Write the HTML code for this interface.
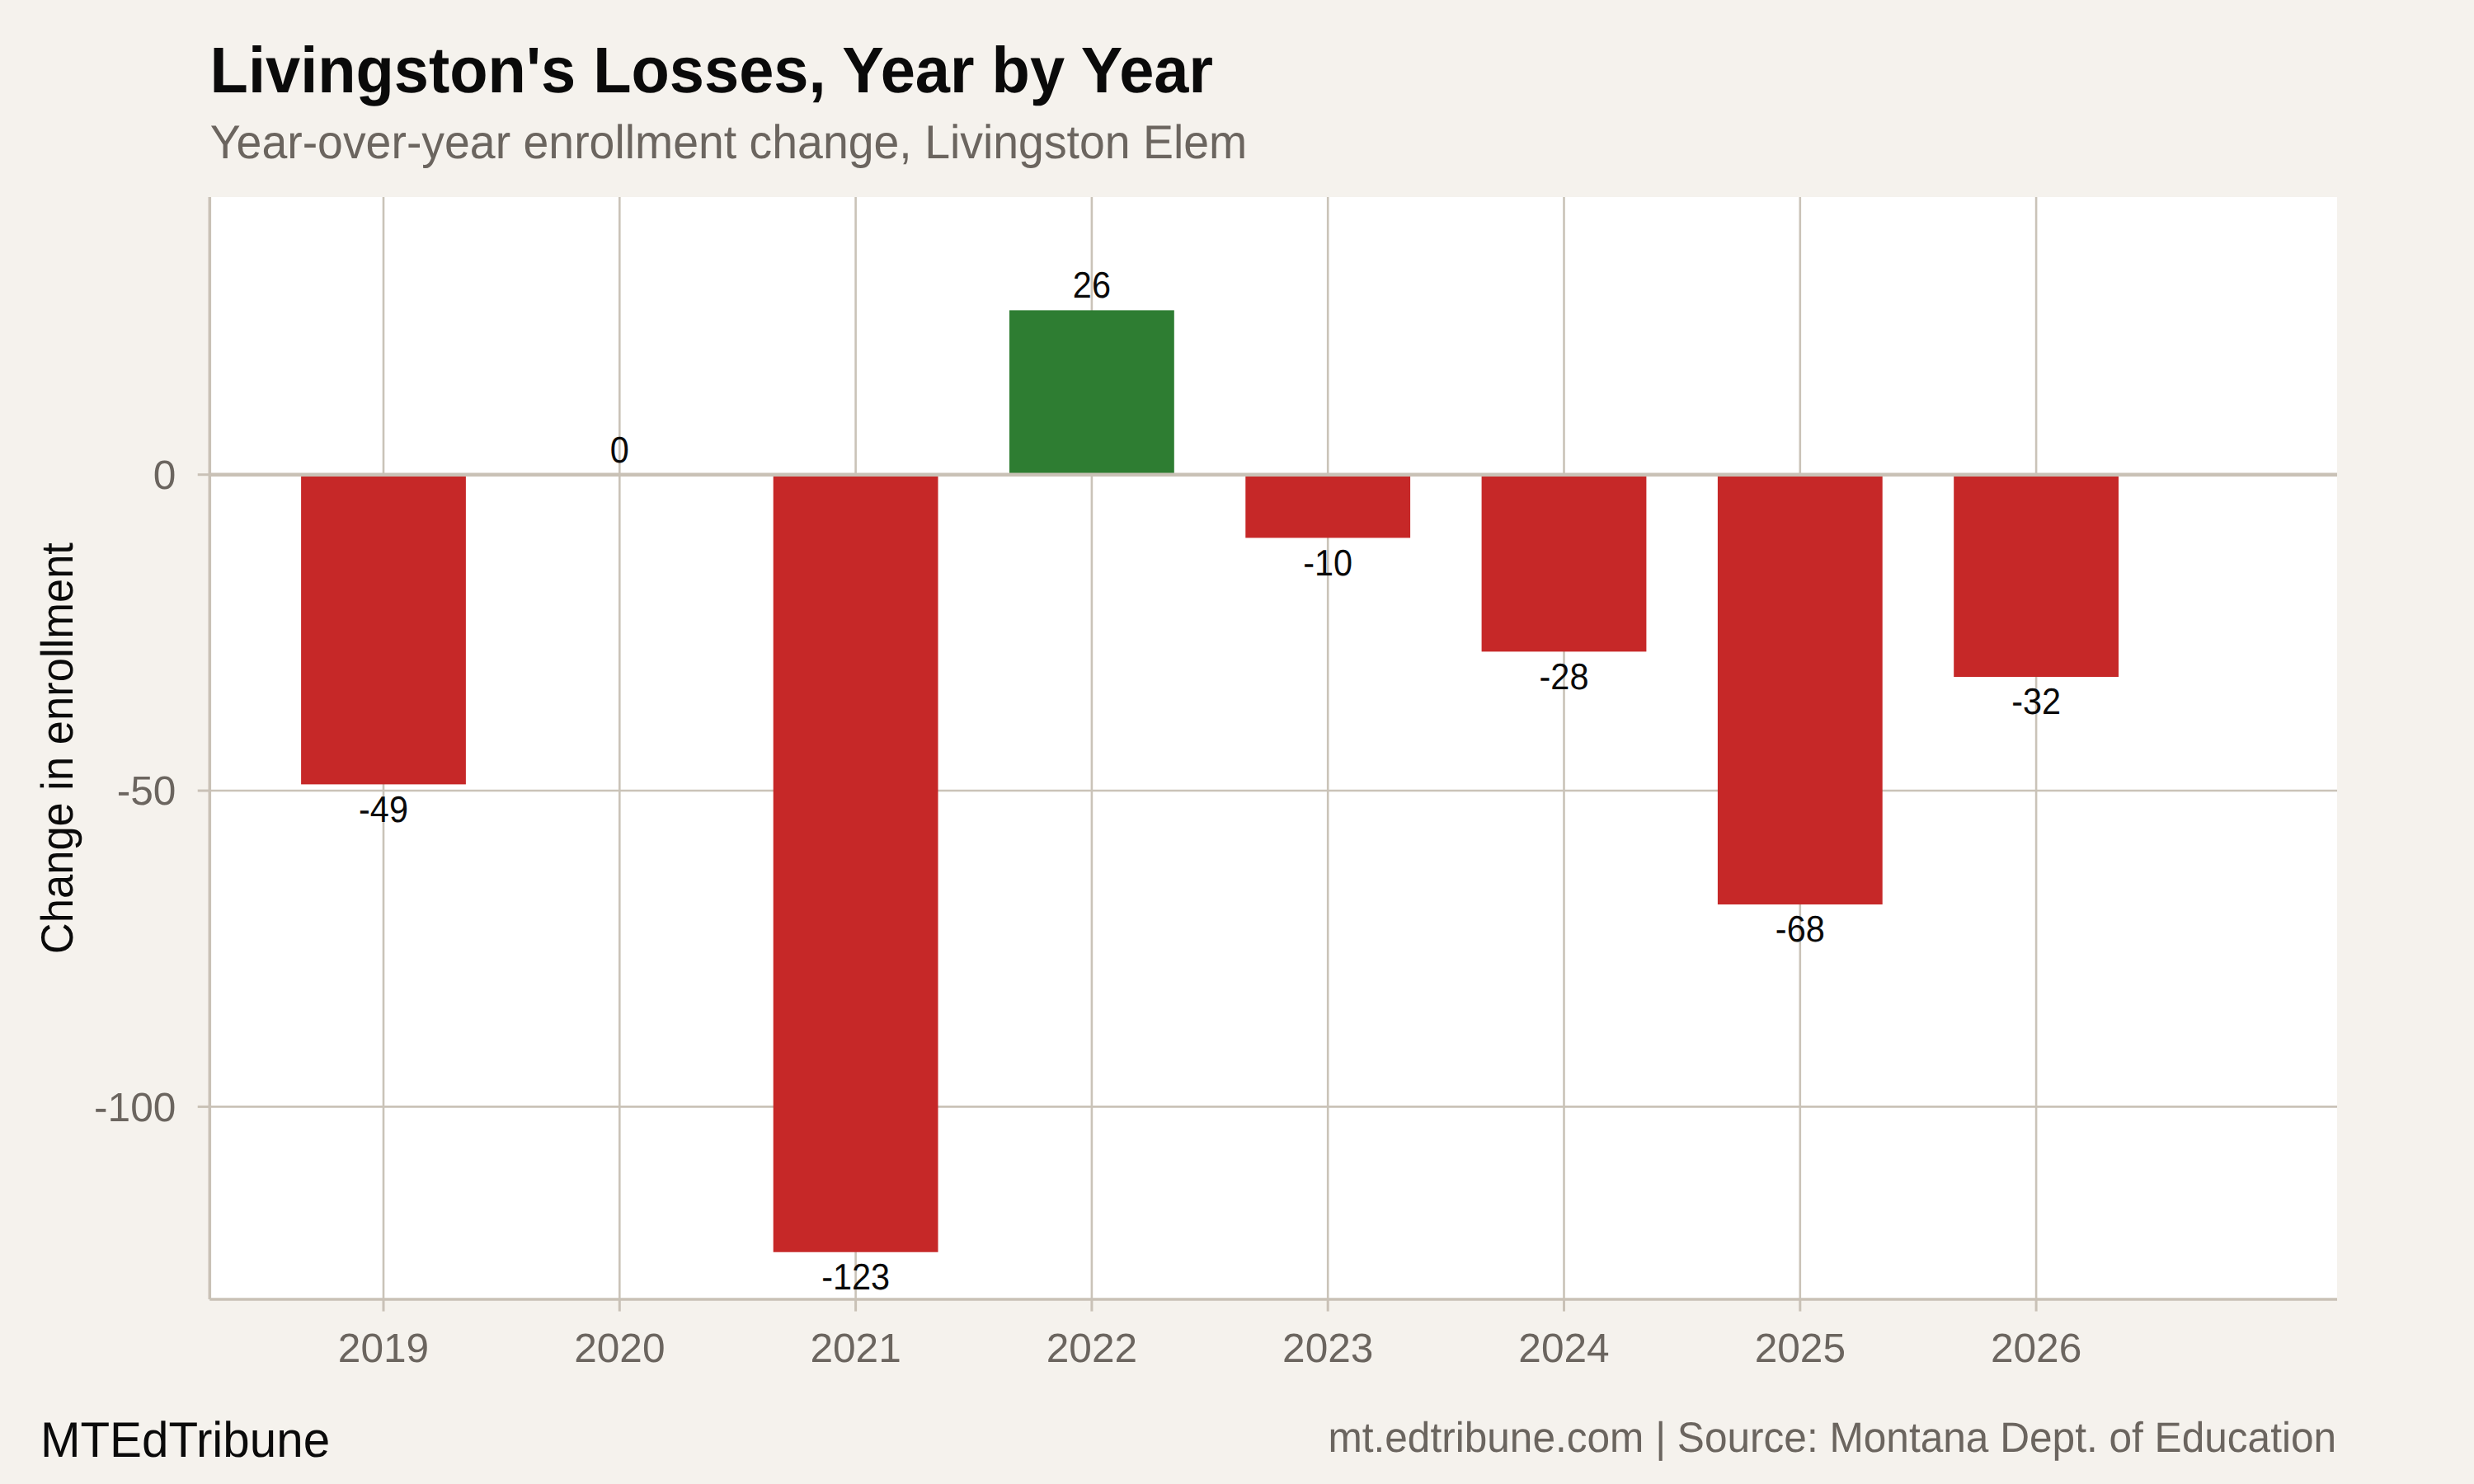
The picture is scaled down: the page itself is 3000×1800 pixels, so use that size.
<!DOCTYPE html>
<html lang="en">
<head>
<meta charset="utf-8">
<title>Livingston's Losses, Year by Year</title>
<style>
html,body{margin:0;padding:0;background:#F5F2ED;}
body{width:3000px;height:1800px;overflow:hidden;}
svg{display:block;}
text{font-family:"Liberation Sans",sans-serif;text-rendering:geometricPrecision;}
</style>
</head>
<body>
<svg width="3000" height="1800" viewBox="0 0 3000 1800">
<rect x="0" y="0" width="3000" height="1800" fill="#F5F2ED"/>
<rect x="254.30" y="239.00" width="2579.70" height="1337.00" fill="#FFFFFF"/>
<g stroke="#CAC3B8" stroke-width="2.60" fill="none">
<line x1="254.30" y1="575.70" x2="2834.00" y2="575.70"/>
<line x1="254.30" y1="959.05" x2="2834.00" y2="959.05"/>
<line x1="254.30" y1="1342.40" x2="2834.00" y2="1342.40"/>
<line x1="465.00" y1="239.00" x2="465.00" y2="1576.00"/>
<line x1="751.30" y1="239.00" x2="751.30" y2="1576.00"/>
<line x1="1037.60" y1="239.00" x2="1037.60" y2="1576.00"/>
<line x1="1323.90" y1="239.00" x2="1323.90" y2="1576.00"/>
<line x1="1610.20" y1="239.00" x2="1610.20" y2="1576.00"/>
<line x1="1896.50" y1="239.00" x2="1896.50" y2="1576.00"/>
<line x1="2182.80" y1="239.00" x2="2182.80" y2="1576.00"/>
<line x1="2469.10" y1="239.00" x2="2469.10" y2="1576.00"/>
</g>
<rect x="365.10" y="575.70" width="199.80" height="375.68" fill="#C62828"/>
<rect x="937.70" y="575.70" width="199.80" height="943.04" fill="#C62828"/>
<rect x="1224.00" y="376.36" width="199.80" height="199.34" fill="#2E7D32"/>
<rect x="1510.30" y="575.70" width="199.80" height="76.67" fill="#C62828"/>
<rect x="1796.60" y="575.70" width="199.80" height="214.68" fill="#C62828"/>
<rect x="2082.90" y="575.70" width="199.80" height="521.36" fill="#C62828"/>
<rect x="2369.20" y="575.70" width="199.80" height="245.34" fill="#C62828"/>
<line x1="254.30" y1="575.70" x2="2834.00" y2="575.70" stroke="#C9C1B6" stroke-width="4.50"/>
<g font-size="44.80" fill="#0A0A0A" text-anchor="middle">
<text transform="translate(465.00 996.58) scale(0.9250 1)">-49</text>
<text transform="translate(751.30 560.80) scale(0.9250 1)">0</text>
<text transform="translate(1037.60 1563.94) scale(0.9250 1)">-123</text>
<text transform="translate(1323.90 361.46) scale(0.9250 1)">26</text>
<text transform="translate(1610.20 697.57) scale(0.9250 1)">-10</text>
<text transform="translate(1896.50 835.58) scale(0.9250 1)">-28</text>
<text transform="translate(2182.80 1142.26) scale(0.9250 1)">-68</text>
<text transform="translate(2469.10 866.24) scale(0.9250 1)">-32</text>
</g>
<g stroke="#C9C1B6" fill="none">
<line x1="254.30" y1="239.00" x2="254.30" y2="1576.00" stroke-width="3.56"/>
<line x1="254.30" y1="1576.00" x2="2834.00" y2="1576.00" stroke-width="3.56"/>
<line x1="239.72" y1="575.70" x2="254.30" y2="575.70" stroke-width="3.00"/>
<line x1="239.72" y1="959.05" x2="254.30" y2="959.05" stroke-width="3.00"/>
<line x1="239.72" y1="1342.40" x2="254.30" y2="1342.40" stroke-width="3.00"/>
<line x1="465.00" y1="1576.00" x2="465.00" y2="1590.58" stroke-width="3.00"/>
<line x1="751.30" y1="1576.00" x2="751.30" y2="1590.58" stroke-width="3.00"/>
<line x1="1037.60" y1="1576.00" x2="1037.60" y2="1590.58" stroke-width="3.00"/>
<line x1="1323.90" y1="1576.00" x2="1323.90" y2="1590.58" stroke-width="3.00"/>
<line x1="1610.20" y1="1576.00" x2="1610.20" y2="1590.58" stroke-width="3.00"/>
<line x1="1896.50" y1="1576.00" x2="1896.50" y2="1590.58" stroke-width="3.00"/>
<line x1="2182.80" y1="1576.00" x2="2182.80" y2="1590.58" stroke-width="3.00"/>
<line x1="2469.10" y1="1576.00" x2="2469.10" y2="1590.58" stroke-width="3.00"/>
</g>
<g font-size="49.58" fill="#6B655F">
<text transform="translate(213.30 593.10) scale(1 1.0000)" text-anchor="end">0</text>
<text transform="translate(213.30 976.45) scale(1 1.0000)" text-anchor="end">-50</text>
<text transform="translate(213.30 1359.80) scale(1 1.0000)" text-anchor="end">-100</text>
<text transform="translate(465.00 1651.90) scale(1 1.0000)" text-anchor="middle">2019</text>
<text transform="translate(751.30 1651.90) scale(1 1.0000)" text-anchor="middle">2020</text>
<text transform="translate(1037.60 1651.90) scale(1 1.0000)" text-anchor="middle">2021</text>
<text transform="translate(1323.90 1651.90) scale(1 1.0000)" text-anchor="middle">2022</text>
<text transform="translate(1610.20 1651.90) scale(1 1.0000)" text-anchor="middle">2023</text>
<text transform="translate(1896.50 1651.90) scale(1 1.0000)" text-anchor="middle">2024</text>
<text transform="translate(2182.80 1651.90) scale(1 1.0000)" text-anchor="middle">2025</text>
<text transform="translate(2469.10 1651.90) scale(1 1.0000)" text-anchor="middle">2026</text>
</g>
<text transform="translate(88.10 907.60) rotate(-90) scale(1 1.0370)" font-size="52.50" fill="#0A0A0A" text-anchor="middle">Change in enrollment</text>
<text transform="translate(254.60 112.20) scale(1 1.0370)" font-size="75.83" font-weight="bold" fill="#0A0A0A">Livingston's Losses, Year by Year</text>
<text transform="translate(254.70 192.00) scale(1 1.0370)" font-size="55.42" fill="#6B655F">Year-over-year enrollment change, Livingston Elem</text>
<text transform="translate(48.90 1767.00) scale(1 1.0370)" font-size="58.33" fill="#0A0A0A">MTEdTribune</text>
<text transform="translate(2833.10 1760.80) scale(1 1.0370)" font-size="49.58" fill="#6B655F" text-anchor="end">mt.edtribune.com | Source: Montana Dept. of Education</text>
</svg>
</body>
</html>
